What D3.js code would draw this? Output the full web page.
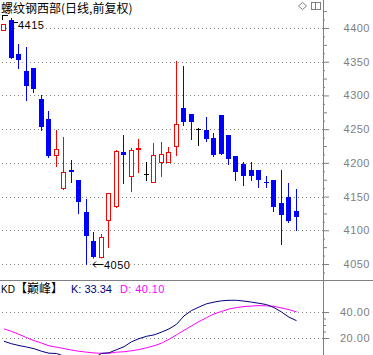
<!DOCTYPE html>
<html>
<head>
<meta charset="utf-8">
<script src="https://cdn.jsdelivr.net/npm/d3@7"></script>
<style>
  body { margin: 0; background: #fff; }
  svg { display: block; font-family: "Liberation Sans", Arial, sans-serif; }
</style>
</head>
<body>
<svg id="chart"></svg>
<script>
// ===== data (daily candles, oldest first) =====
const opens  = [4397, 4412, 4361, 4336, 4341, 4294, 4265, 4211, 4162, 4189,
                4175, 4127, 4084, 4060, 4115, 4136, 4216, 4181, 4221, 4183,
                4172, 4202, 4202, 4225, 4281, 4272, 4250, 4248, 4237, 4271,
                4241, 4210, 4199, 4190, 4189, 4171, 4175, 4141, 4150, 4129];
const highs  = [4406, 4415, 4376, 4372, 4341, 4300, 4277, 4248, 4239, 4204,
                4175, 4147, 4098, 4095, 4156, 4219, 4242, 4222, 4235, 4201,
                4229, 4231, 4223, 4351, 4344, 4272, 4251, 4268, 4245, 4271,
                4241, 4210, 4201, 4201, 4189, 4181, 4175, 4190, 4170, 4161];
const lows   = [4397, 4355, 4341, 4293, 4305, 4248, 4209, 4195, 4161, 4171,
                4125, 4050, 4054, 4052, 4075, 4134, 4170, 4159, 4186, 4174,
                4172, 4180, 4201, 4211, 4256, 4235, 4226, 4232, 4210, 4213,
                4199, 4175, 4167, 4174, 4164, 4164, 4129, 4080, 4112, 4101];
const closes = [4406, 4355, 4352, 4314, 4309, 4253, 4210, 4221, 4187, 4186,
                4142, 4091, 4060, 4090, 4156, 4217, 4211, 4219, 4222, 4183,
                4211, 4213, 4216, 4257, 4260, 4260, 4250, 4235, 4211, 4213,
                4205, 4187, 4180, 4180, 4174, 4170, 4135, 4122, 4114, 4120];

// KD indicator
const kValues = [17.5, 15.6, 14.2, 13.1, 11.8, 9.8, 8.3, 8.1, 6.0, 4.0,
                 3.0, 2.5, 4.5, 8.2, 8.6, 11.0, 13.3, 17.1, 19.5, 21.3,
                 22.4, 24.5, 27.0, 30.5, 37.0, 41.1, 43.8, 46.3, 47.6, 48.6,
                 49.0, 49.0, 48.4, 47.6, 46.7, 45.7, 43.4, 40.0, 36.0, 33.34];
const dValues = [27.0, 25.1, 22.8, 20.3, 18.0, 16.1, 14.0, 12.9, 11.9, 10.7,
                 9.8, 9.1, 8.5, 8.2, 8.3, 9.1, 9.4, 10.2, 11.1, 12.5,
                 14.0, 16.0, 19.0, 22.4, 25.9, 29.3, 32.7, 35.6, 38.5, 40.4,
                 42.3, 43.4, 44.2, 44.6, 44.9, 44.7, 44.4, 43.1, 41.8, 40.10];

const priceTicks  = [4050, 4100, 4150, 4200, 4250, 4300, 4350, 4400];
const priceLabels = ["4050", "4100", "4150", "4200", "4250", "4300", "4350", "4400"];
const kdTicks  = [20, 40];
const kdLabels = ["20.00", "40.00"];
const kdMinor  = [25, 30, 35];

const title = "螺纹钢西部(日线,前复权)";

// ===== layout =====
const width = 373, height = 355;
const axisX = 323;
const sepY = 280;
const gray = "#808080";
const red = "#ff0000", blue = "#0000ff";

const svg = d3.select("#chart").attr("width", width).attr("height", height);

const x = d3.scaleLinear().domain([0, opens.length - 1]).range([4, 296.5]);
const y = d3.scaleLinear().domain([4050, 4400]).range([264, 28]);
const yKD = d3.scaleLinear().domain([20, 40]).range([338, 312]);

//================ grid =================
const crisp = v => Math.round(v) + 0.5;

svg.append("g").selectAll("line").data(priceTicks).join("line")
  .attr("x1", 2).attr("x2", axisX)
  .attr("y1", d => crisp(y(d))).attr("y2", d => crisp(y(d)))
  .attr("stroke", gray).attr("stroke-dasharray", "1,3");

svg.append("g").selectAll("line").data(kdTicks).join("line")
  .attr("x1", 2).attr("x2", axisX)
  .attr("y1", d => crisp(yKD(d))).attr("y2", d => crisp(yKD(d)))
  .attr("stroke", gray).attr("stroke-dasharray", "1,3");

//================ axes =================
svg.append("line").attr("x1", axisX + 0.5).attr("x2", axisX + 0.5)
  .attr("y1", 0).attr("y2", height).attr("stroke", gray);
svg.append("line").attr("x1", 0).attr("x2", width)
  .attr("y1", sepY + 0.5).attr("y2", sepY + 0.5).attr("stroke", gray);

function styleAxis(g) {
  g.attr("font-family", null).attr("font-size", null);
  g.select(".domain").remove();
  g.selectAll("line").attr("stroke", gray);
  g.selectAll("text").attr("x", 47).attr("text-anchor", "end")
    .attr("fill", gray).style("font-size", "11px").style("letter-spacing", "0.5px");
}

// minor ticks on the price axis
const priceMid = priceTicks.map(v => v + 25).filter(v => y(v) > 0);
const priceSmall = priceTicks.flatMap(v => [v - 12.5, v + 12.5])
  .filter(v => y(v) > 1 && y(v) < sepY - 1);

svg.append("g").attr("transform", `translate(${axisX},0)`)
  .call(d3.axisRight(y).tickValues(priceTicks).tickSize(6).tickFormat((d, i) => priceLabels[i]))
  .call(styleAxis);
svg.append("g").attr("transform", `translate(${axisX},0)`)
  .call(d3.axisRight(y).tickValues(priceMid).tickSize(4).tickFormat(""))
  .call(styleAxis);
svg.append("g").attr("transform", `translate(${axisX},0)`)
  .call(d3.axisRight(y).tickValues(priceSmall).tickSize(2).tickFormat(""))
  .call(styleAxis);

svg.append("g").attr("transform", `translate(${axisX},0)`)
  .call(d3.axisRight(yKD).tickValues(kdTicks).tickSize(6).tickFormat((d, i) => kdLabels[i]))
  .call(styleAxis);
svg.append("g").attr("transform", `translate(${axisX},0)`)
  .call(d3.axisRight(yKD).tickValues(kdMinor).tickSize(3).tickFormat(""))
  .call(styleAxis);

//================ candles =================
const candles = opens.map((o, i) => ({ i, o, h: highs[i], l: lows[i], c: closes[i] }));
const colorOf = d => d.c > d.o ? red : d.c < d.o ? blue : "#000";

const cg = svg.append("g").attr("shape-rendering", "crispEdges");

// wicks
cg.selectAll(".wick").data(candles).join("line").attr("class", "wick")
  .attr("x1", d => Math.floor(x(d.i) - 2.5) + 2.5)
  .attr("x2", d => Math.floor(x(d.i) - 2.5) + 2.5)
  .attr("y1", d => Math.round(y(d.h)))
  .attr("y2", d => Math.round(y(d.l)) + 1)
  .attr("stroke", colorOf);

// bodies
cg.selectAll(".body").data(candles.filter(d => d.c !== d.o)).join("rect").attr("class", "body")
  .each(function (d) {
    const bx = Math.floor(x(d.i) - 2.5);
    const top = Math.round(y(Math.max(d.o, d.c)));
    const bot = Math.round(y(Math.min(d.o, d.c)));
    const el = d3.select(this);
    if (d.c > d.o) {
      el.attr("x", bx + 0.5).attr("y", top + 0.5).attr("width", 4)
        .attr("height", Math.max(bot - top, 1))
        .attr("fill", "#fff").attr("stroke", red);
    } else {
      el.attr("x", bx).attr("y", top).attr("width", 5)
        .attr("height", Math.max(bot - top, 1))
        .attr("fill", blue);
    }
  });

// doji
cg.selectAll(".doji").data(candles.filter(d => d.c === d.o)).join("line").attr("class", "doji")
  .attr("x1", d => Math.floor(x(d.i) - 2.5)).attr("x2", d => Math.floor(x(d.i) - 2.5) + 5)
  .attr("y1", d => crisp(y(d.o))).attr("y2", d => crisp(y(d.o)))
  .attr("stroke", "#000");

//================ high / low markers =================
const hi = d3.maxIndex(highs), lo = d3.minIndex(lows);
const hx = x(hi), hy = y(highs[hi]);
const lx = x(lo), ly = y(lows[lo]);

const markG = svg.append("g");
const hiBg = markG.append("rect").attr("fill", "#fff");
const hiText = markG.append("text").attr("x", hx + 6.5).attr("y", hy + 11)
  .style("font-size", "11px").style("letter-spacing", "0.5px").text(String(highs[hi]));
let bb = hiText.node().getBBox();
hiBg.attr("x", bb.x).attr("y", bb.y + 3).attr("width", bb.width).attr("height", bb.height - 3);
markG.append("path").attr("fill", "none").attr("stroke", "#000").attr("shape-rendering", "crispEdges")
  .attr("d", `M${hx - 9},${hy + 2.5} V${hy - 2.5} H${hx - 4} M${hx + 2.5},${hy + 4.5} H${hx + 6}`);

const loBg = markG.append("rect").attr("fill", "#fff");
const loText = markG.append("text").attr("x", lx + 17.5).attr("y", ly + 4.5)
  .style("font-size", "11px").style("letter-spacing", "0.5px").text(String(lows[lo]));
bb = loText.node().getBBox();
loBg.attr("x", lx + 6).attr("y", bb.y).attr("width", bb.x + bb.width - lx - 6).attr("height", bb.height);
markG.append("path").attr("fill", "none").attr("stroke", "#000")
  .attr("d", `M${lx + 17},${ly + 0.5} H${lx + 6.5} M${lx + 9.5},${ly - 2.5} L${lx + 6.5},${ly + 0.5} L${lx + 9.5},${ly + 3.5}`);

//================ KD lines =================
svg.append("clipPath").attr("id", "kdclip").append("rect")
  .attr("x", 0).attr("y", sepY + 1).attr("width", axisX).attr("height", height - sepY);

const kdLine = d3.line().x((d, i) => x(i)).y(d => yKD(d));
const kg = svg.append("g").attr("clip-path", "url(#kdclip)");
kg.append("path").attr("d", kdLine(dValues)).attr("fill", "none").attr("stroke", "#ff00ff");
kg.append("path").attr("d", kdLine(kValues)).attr("fill", "none").attr("stroke", "#000080");

//================ texts =================
svg.append("text").attr("x", 1).attr("y", 13)
  .style("font-family", "'Noto Sans CJK SC', sans-serif").style("font-size", "12px")
  .text(title);

const kdHead = svg.append("text").attr("y", 293).style("font-size", "11px");
kdHead.append("tspan").attr("x", 1).style("font-size", "10px").text("KD");
kdHead.append("tspan").attr("x", 15).style("font-family", "'Noto Sans CJK SC', sans-serif")
  .style("font-size", "12px").text("【巅峰】");
kdHead.append("tspan").attr("x", 71).attr("fill", "#000080").text("K: " + kValues[kValues.length - 1].toFixed(2));
kdHead.append("tspan").attr("x", 120).attr("fill", "#ff00ff").style("letter-spacing", "0.4px")
  .text("D: " + dValues[dValues.length - 1].toFixed(2));

//================ top-right icons =================
svg.append("path").attr("fill", "#fff").attr("stroke", gray)
  .attr("d", "M302.5,2.5 L306.5,6 L302.5,9.5 L298.5,6 Z");
svg.append("rect").attr("x", 311.5).attr("y", 2.5).attr("width", 9).attr("height", 7)
  .attr("fill", "#fff").attr("stroke", gray).attr("shape-rendering", "crispEdges");
svg.append("line").attr("x1", 315.5).attr("x2", 315.5).attr("y1", 2.5).attr("y2", 9.5)
  .attr("stroke", gray).attr("shape-rendering", "crispEdges");
</script>
</body>
</html>
